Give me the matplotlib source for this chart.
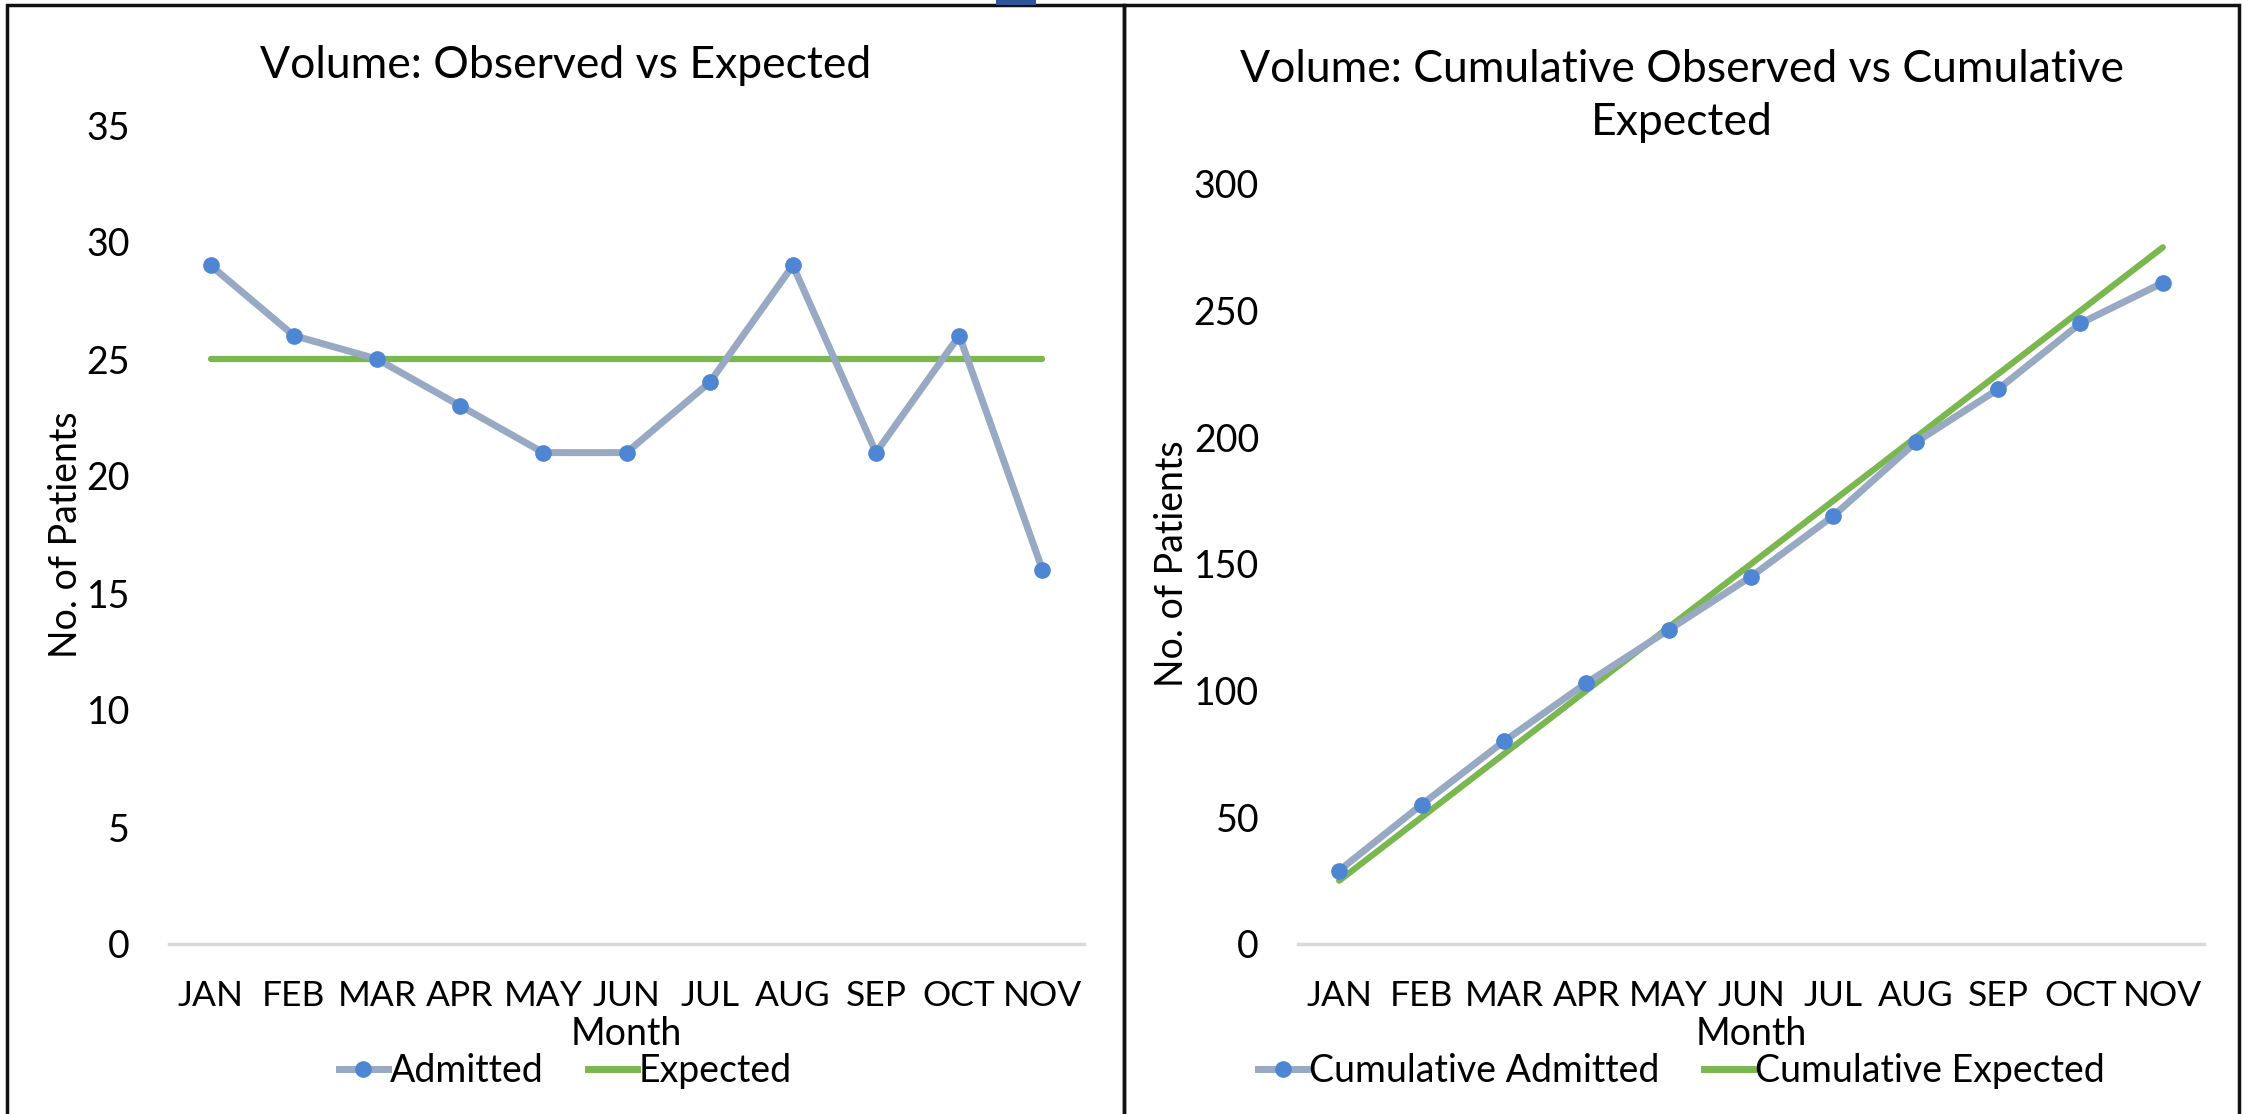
import matplotlib
matplotlib.use("Agg")
from matplotlib import pyplot as plt
from matplotlib.patches import Rectangle
from matplotlib.lines import Line2D

months = ["JAN", "FEB", "MAR", "APR", "MAY", "JUN", "JUL", "AUG", "SEP", "OCT", "NOV"]
admitted = [29, 26, 25, 23, 21, 21, 24, 29, 21, 26, 16]
expected = [25, 25, 25, 25, 25, 25, 25, 25, 25, 25, 25]
cum_admitted = [29, 55, 80, 103, 124, 145, 169, 198, 219, 245, 261]
cum_expected = [25, 50, 75, 100, 125, 150, 175, 200, 225, 250, 275]

LINE_COLOR = "#97A9C3"
MARKER_COLOR = "#4F86D3"
GREEN = "#7AB74F"
FONT = ["Lato", "DejaVu Sans"]
W, H = 2252, 1114

fig = plt.figure(figsize=(W / 100, H / 100), dpi=100)

# panel frames and the little blue tab at the top
panels = [(7, 1124), (1124, 2239)]
for x0, x1 in panels:
    fig.add_artist(Rectangle((x0 / W, -0.01), (x1 - x0) / W, (H - 5) / H + 0.01,
                             transform=fig.transFigure, fill=False,
                             edgecolor="#111111", linewidth=2.5))
fig.add_artist(Rectangle((996 / W, (H - 5) / H), 40 / W, 5 / H,
                         transform=fig.transFigure, color="#2E5597", linewidth=0))


def draw_panel(ax, panel, obs, exp, ymax, step, title, title_y, obs_label, exp_label,
               ylabel_pad):
    center = (panel[0] + panel[1]) / 2 / W
    x = list(range(len(months)))
    ax.plot(x, obs, color=LINE_COLOR, linewidth=5, marker="o", markersize=11,
            markerfacecolor=MARKER_COLOR, markeredgecolor=MARKER_COLOR,
            solid_capstyle="round", zorder=3)
    ax.plot(x, exp, color=GREEN, linewidth=4.5, solid_capstyle="round", zorder=2)
    ax.set_xlim(-0.5, len(months) - 0.5)
    ax.set_ylim(0, ymax)
    ax.set_yticks(range(0, ymax + 1, step))
    ax.set_xticks(x)
    ax.set_xticklabels(months)
    for lab in ax.get_yticklabels():
        lab.set_fontfamily(FONT)
        lab.set_fontsize(27)
    for lab in ax.get_xticklabels():
        lab.set_fontfamily(FONT)
        lab.set_fontsize(25.5)
    ax.tick_params(length=0, pad=28)
    ax.tick_params(axis="x", pad=26)
    for side in ax.spines:
        ax.spines[side].set_visible(False)
    ax.axhline(0, color="#D9D9D9", linewidth=2.5, zorder=1, clip_on=False)
    ax.set_xlabel("Month", fontfamily=FONT, fontsize=27, labelpad=3)
    ax.set_ylabel("No. of Patients", fontfamily=FONT, fontsize=27, labelpad=ylabel_pad)
    fig.text(center, title_y, title, ha="center", va="center", fontfamily=FONT,
             fontsize=32, linespacing=1.35)
    handles = [
        Line2D([], [], color=LINE_COLOR, linewidth=5, marker="o", markersize=11,
               markerfacecolor=MARKER_COLOR, markeredgecolor=MARKER_COLOR),
        Line2D([], [], color=GREEN, linewidth=5),
    ]
    fig.legend(handles, [obs_label, exp_label], loc="center", ncol=2, frameon=False,
               bbox_to_anchor=(center, (H - 1071) / H),
               prop={"family": FONT, "size": 27},
               handlelength=1.3, handletextpad=0.05, columnspacing=1.2)


ax1 = fig.add_axes([169 / W, 170 / H, 915 / W, 819 / H])
ax2 = fig.add_axes([1298 / W, 170 / H, 906 / W, 760 / H])

draw_panel(ax1, panels[0], admitted, expected, 35, 5, "Volume: Observed vs Expected",
           1 - 65 / H, "Admitted", "Expected", 2)
draw_panel(ax2, panels[1], cum_admitted, cum_expected, 300, 50,
           "Volume: Cumulative Observed vs Cumulative\nExpected",
           1 - 96 / H, "Cumulative Admitted", "Cumulative Expected", 3)

plt.savefig("out.png", dpi=100)
